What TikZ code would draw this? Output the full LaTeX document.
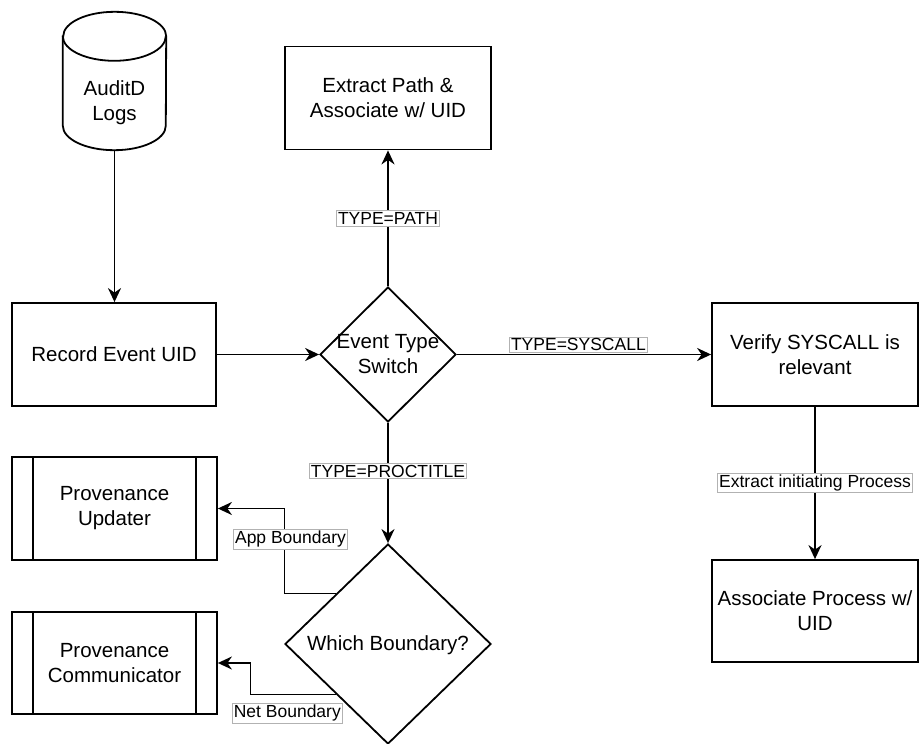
\documentclass[tikz,border=0pt]{standalone}
\usepackage{fontspec}
\setmainfont{Liberation Sans}
\usetikzlibrary{arrows.meta,shapes.geometric}
\begin{document}
\begin{tikzpicture}[x=1pt,y=1pt,
  every node/.style={font=\fontsize{20.5}{25}\selectfont, align=center},
  stepbox/.style={draw, line width=1.8pt, rectangle, minimum width=206pt, minimum height=103pt, inner sep=0pt},
  procbox/.style={stepbox, minimum width=205pt,
    path picture={
      \draw[line width=1.8pt] ([xshift=21pt]path picture bounding box.north west) -- ([xshift=21pt]path picture bounding box.south west);
      \draw[line width=1.8pt] ([xshift=-21pt]path picture bounding box.north east) -- ([xshift=-21pt]path picture bounding box.south east);
    }},
  decision/.style={draw, diamond, line width=1.8pt, inner sep=0pt},
  flow/.style={line width=1.8pt, -{Stealth[length=14pt, width=13pt, inset=4.5pt]}},
  lbl/.style={fill=white, draw=black!30, line width=0.5pt, inner sep=1.5pt, font=\fontsize{17.5}{20}\selectfont}
]
% canvas
\fill[white] (0,0) rectangle (919,-744);
\useasboundingbox (0,0) rectangle (919,-744);

% log source (cylinder)
\node[minimum width=103pt, minimum height=138pt, inner sep=0pt] (logs) at (114.5,-81) {};
\draw[line width=1.8pt, fill=white]
  ([yshift=-24.5pt]logs.north west) -- ([yshift=24.5pt]logs.south west)
  arc[start angle=180, end angle=360, x radius=51.5, y radius=24.5]
  -- ([yshift=-24.5pt]logs.north east)
  arc[start angle=0, end angle=180, x radius=51.5, y radius=24.5] -- cycle;
\draw[line width=1.8pt] ([yshift=-24.5pt]logs.north west)
  arc[start angle=180, end angle=360, x radius=51.5, y radius=24.5];
\node (logstext) at (114.5,-103) {AuditD\\Logs};

% processing steps
\node[stepbox, minimum width=204pt] (record) at (114,-354.5) {Record Event UID};
\node[stepbox] (path) at (388,-98) {Extract Path \&\\Associate w/ UID};
\node[stepbox] (verify) at (815,-354.5) {Verify SYSCALL is\\relevant};
\node[stepbox, minimum height=102pt] (assoc) at (815,-611) {Associate Process w/\\UID};

% decisions
\node[decision, minimum width=136pt, minimum height=135pt] (switch) at (388,-354.5) {};
\node (switchtext) at (388,-354.5) {Event Type\\Switch};
\node[decision, minimum width=206pt, minimum height=200pt] (which) at (388,-644) {};
\node (whichtext) at (388,-645) {Which Boundary?};

% predefined processes
\node[procbox] (updater) at (114.5,-508.5) {Provenance\\Updater};
\node[procbox, minimum height=102pt] (comm) at (114.5,-663) {Provenance\\Communicator};

% connectors
\draw[flow] (logs.south) -- (logs.south |- record.north);
\draw[flow] (record.east) -- (switch.west);
\draw[flow] (switch.north) -- node[lbl]{TYPE=PATH} (path.south);
\draw[flow] (switch.east) -- node[lbl, pos=0.478, above=2pt]{TYPE=SYSCALL} (verify.west);
\draw[flow] (switch.south) -- node[lbl, pos=0.4]{TYPE=PROCTITLE} (which.north);
\draw[flow] (verify.south) -- node[lbl]{Extract initiating Process} (assoc.north);
\draw[flow] (which.north west) -- ++(-51.5,0) |- node[lbl, pos=0.32, xshift=6pt]{App Boundary} (updater.east);
\draw[flow] (which.south west) -- node[lbl, pos=0.57, below=9pt]{Net Boundary} ++(-85.5,0) |- (comm.east);
\end{tikzpicture}
\end{document}
